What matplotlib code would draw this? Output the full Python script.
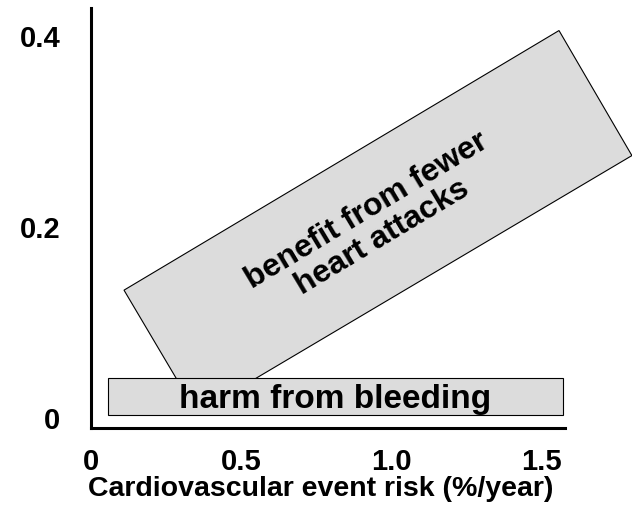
import matplotlib
matplotlib.use("Agg")
import matplotlib.pyplot as plt
from matplotlib.patches import Polygon, Rectangle

plt.rcParams['font.family'] = ['Liberation Sans', 'DejaVu Sans']
plt.rcParams['font.weight'] = 'bold'

# schematic values
x_ticks = [0, 0.5, 1.0, 1.5]
x_tick_labels = ["0", "0.5", "1.0", "1.5"]
y_ticks = [0, 0.2, 0.4]
y_tick_labels = ["0", "0.2", "0.4"]

# harm band: x start, x end, y bottom, y top
harm_x = [0.057, 1.573]
harm_y = [0.003, 0.042]

# benefit band corners (x, y): left, top, right, bottom
benefit_x = [0.11, 1.56, 1.803, 0.353]
benefit_y = [0.134, 0.406, 0.275, 0.005]

fig = plt.figure(figsize=(6.32, 5.09), dpi=100)
ax = fig.add_axes([0.144, 0.159, 0.75, 0.826])
ax.set_xlim(0, 1.58)
ax.set_ylim(-0.0105, 0.43)

ax.add_patch(Polygon(list(zip(benefit_x, benefit_y)), closed=True,
                     facecolor="#dcdcdc", edgecolor="black", linewidth=0.8,
                     clip_on=False, zorder=2))
ax.add_patch(Rectangle((harm_x[0], harm_y[0]), harm_x[1] - harm_x[0],
                       harm_y[1] - harm_y[0], facecolor="#dcdcdc",
                       edgecolor="black", linewidth=0.8, clip_on=False, zorder=3))

ax.text(0.945, 0.203, "benefit from fewer\nheart attacks", rotation=31,
        ha="center", va="center", fontsize=23, fontweight="bold",
        linespacing=1.05, rotation_mode="anchor", zorder=4)
ax.text((harm_x[0] + harm_x[1]) / 2, (harm_y[0] + harm_y[1]) / 2 - 0.003,
        "harm from bleeding", ha="center", va="center", fontsize=24,
        fontweight="bold", zorder=4)

ax.set_xticks(x_ticks)
ax.set_xticklabels(x_tick_labels)
ax.set_yticks(y_ticks)
ax.set_yticklabels(y_tick_labels)
ax.tick_params(axis="x", length=0, pad=14, labelsize=21)
ax.tick_params(axis="y", length=0, pad=22, labelsize=21)
for lbl in ax.get_xticklabels() + ax.get_yticklabels():
    lbl.set_fontweight("bold")

ax.set_xlabel("Cardiovascular event risk (%/year)", fontsize=20.5,
              fontweight="bold", labelpad=0)
ax.xaxis.set_label_coords(0.485, -0.115)

ax.spines["top"].set_visible(False)
ax.spines["right"].set_visible(False)
ax.spines["left"].set_linewidth(2.2)
ax.spines["bottom"].set_linewidth(2.2)

fig.savefig("out.png", dpi=100)
